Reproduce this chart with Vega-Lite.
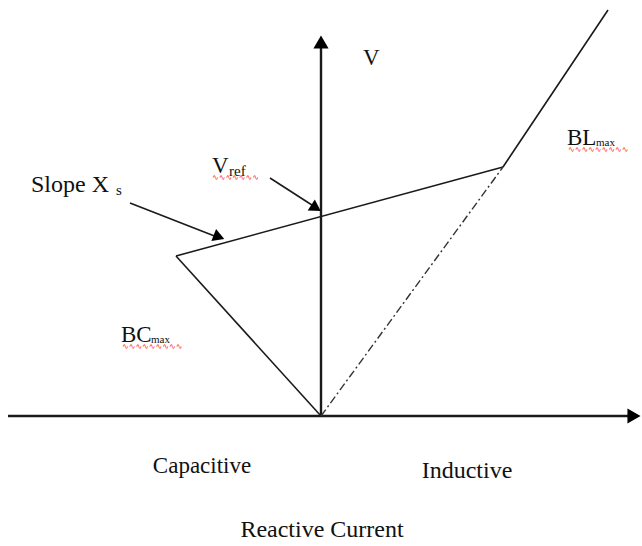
{
  "$schema": "https://vega.github.io/schema/vega-lite/v6.json",
  "width": 642,
  "height": 546,
  "autosize": {"type": "fit", "contains": "padding"},
  "padding": 0,
  "background": "white",
  "config": {"view": {"stroke": null}},
  "datasets": {
    "lines": [
      {"part": "axis", "x": -313, "y": 0, "x2": 312, "y2": 0},
      {"part": "axis", "x": 0, "y": 0, "x2": 0, "y2": 372},
      {"part": "curve", "x": 0, "y": 0, "x2": -145, "y2": 160},
      {"part": "curve", "x": -145, "y": 160, "x2": 182, "y2": 249},
      {"part": "curve", "x": 182, "y": 249, "x2": 287, "y2": 406},
      {"part": "pointer", "x": -191, "y": 213, "x2": -104, "y2": 179},
      {"part": "pointer", "x": -51, "y": 238, "x2": -6, "y2": 209},
      {"part": "dashdot", "x": 0, "y": 0, "x2": 182, "y2": 249}
    ],
    "heads": [
      {"part": "axis", "x": 0, "y": 374, "dir": 0},
      {"part": "axis", "x": 313, "y": 0, "dir": 90},
      {"part": "pointer", "x": -102, "y": 179, "dir": 111},
      {"part": "pointer", "x": -5, "y": 208, "dir": 123}
    ],
    "labels": [
      {"part": "big", "label": "V", "x": 42, "y": 351},
      {"part": "wide", "label": "Slope X", "x": -290, "y": 224},
      {"part": "sub", "label": "s", "x": -205, "y": 221},
      {"part": "big", "label": "V", "x": -109, "y": 243},
      {"part": "sub", "label": "ref", "x": -92, "y": 240},
      {"part": "big", "label": "BL", "x": 246, "y": 271},
      {"part": "tiny", "label": "max", "x": 275, "y": 270},
      {"part": "big", "label": "BC", "x": -200, "y": 74},
      {"part": "tiny", "label": "max", "x": -170, "y": 73}
    ],
    "centered": [
      {"part": "plain", "label": "Capacitive", "x": -119, "y": -57},
      {"part": "wide", "label": "Inductive", "x": 146, "y": -62},
      {"part": "wide", "label": "Reactive Current", "x": 1, "y": -121}
    ],
    "squiggles": [
      {"label": "∿∿∿∿∿∿∿", "x": -109, "y": 238},
      {"label": "∿∿∿∿∿∿∿∿∿", "x": 247, "y": 266},
      {"label": "∿∿∿∿∿∿∿∿∿", "x": -199, "y": 69}
    ]
  },
  "layer": [
    {
      "data": {"name": "lines"},
      "transform": [{"filter": "datum.part === 'axis'"}],
      "mark": {"type": "rule", "color": "#1a1a1a", "strokeWidth": 2.4},
      "encoding": {
        "x": {"field": "x", "type": "quantitative", "scale": {"domain": [-321, 321], "nice": false, "zero": false}, "axis": null},
        "y": {"field": "y", "type": "quantitative", "scale": {"domain": [-130, 416], "nice": false, "zero": false}, "axis": null},
        "x2": {"field": "x2"},
        "y2": {"field": "y2"}
      }
    },
    {
      "data": {"name": "lines"},
      "transform": [{"filter": "datum.part === 'curve' || datum.part === 'pointer'"}],
      "mark": {"type": "rule", "color": "#1a1a1a", "strokeWidth": 1.6},
      "encoding": {
        "x": {"field": "x", "type": "quantitative"},
        "y": {"field": "y", "type": "quantitative"},
        "x2": {"field": "x2"},
        "y2": {"field": "y2"}
      }
    },
    {
      "data": {"name": "lines"},
      "transform": [{"filter": "datum.part === 'dashdot'"}],
      "mark": {"type": "rule", "color": "#333333", "strokeWidth": 1.4, "strokeDash": [8, 3, 2, 3]},
      "encoding": {
        "x": {"field": "x", "type": "quantitative"},
        "y": {"field": "y", "type": "quantitative"},
        "x2": {"field": "x2"},
        "y2": {"field": "y2"}
      }
    },
    {
      "data": {"name": "heads"},
      "transform": [{"filter": "datum.part === 'axis'"}],
      "mark": {"type": "point", "shape": "triangle-up", "filled": true, "color": "#000000", "size": 230, "opacity": 1},
      "encoding": {
        "x": {"field": "x", "type": "quantitative"},
        "y": {"field": "y", "type": "quantitative"},
        "angle": {"field": "dir", "type": "quantitative", "scale": null}
      }
    },
    {
      "data": {"name": "heads"},
      "transform": [{"filter": "datum.part === 'pointer'"}],
      "mark": {"type": "point", "shape": "triangle-up", "filled": true, "color": "#000000", "size": 170, "opacity": 1},
      "encoding": {
        "x": {"field": "x", "type": "quantitative"},
        "y": {"field": "y", "type": "quantitative"},
        "angle": {"field": "dir", "type": "quantitative", "scale": null}
      }
    },
    {
      "data": {"name": "labels"},
      "transform": [{"filter": "datum.part === 'big'"}],
      "mark": {"type": "text", "font": "Liberation Serif", "fontSize": 23, "align": "left", "baseline": "alphabetic", "color": "#111111"},
      "encoding": {
        "x": {"field": "x", "type": "quantitative"},
        "y": {"field": "y", "type": "quantitative"},
        "text": {"field": "label"}
      }
    },
    {
      "data": {"name": "labels"},
      "transform": [{"filter": "datum.part === 'wide'"}],
      "mark": {"type": "text", "font": "Liberation Serif", "fontSize": 24, "letterSpacing": 0.8, "align": "left", "baseline": "alphabetic", "color": "#111111"},
      "encoding": {
        "x": {"field": "x", "type": "quantitative"},
        "y": {"field": "y", "type": "quantitative"},
        "text": {"field": "label"}
      }
    },
    {
      "data": {"name": "labels"},
      "transform": [{"filter": "datum.part === 'sub'"}],
      "mark": {"type": "text", "font": "Liberation Serif", "fontSize": 15, "align": "left", "baseline": "alphabetic", "color": "#111111"},
      "encoding": {
        "x": {"field": "x", "type": "quantitative"},
        "y": {"field": "y", "type": "quantitative"},
        "text": {"field": "label"}
      }
    },
    {
      "data": {"name": "labels"},
      "transform": [{"filter": "datum.part === 'tiny'"}],
      "mark": {"type": "text", "font": "Liberation Serif", "fontSize": 11, "align": "left", "baseline": "alphabetic", "color": "#111111"},
      "encoding": {
        "x": {"field": "x", "type": "quantitative"},
        "y": {"field": "y", "type": "quantitative"},
        "text": {"field": "label"}
      }
    },
    {
      "data": {"name": "centered"},
      "transform": [{"filter": "datum.part === 'plain'"}],
      "mark": {"type": "text", "font": "Liberation Serif", "fontSize": 23, "align": "center", "baseline": "alphabetic", "color": "#111111"},
      "encoding": {
        "x": {"field": "x", "type": "quantitative"},
        "y": {"field": "y", "type": "quantitative"},
        "text": {"field": "label"}
      }
    },
    {
      "data": {"name": "centered"},
      "transform": [{"filter": "datum.part === 'wide'"}],
      "mark": {"type": "text", "font": "Liberation Serif", "fontSize": 24, "letterSpacing": 1.1, "align": "center", "baseline": "alphabetic", "color": "#111111"},
      "encoding": {
        "x": {"field": "x", "type": "quantitative"},
        "y": {"field": "y", "type": "quantitative"},
        "text": {"field": "label"}
      }
    },
    {
      "data": {"name": "squiggles"},
      "mark": {"type": "text", "font": "DejaVu Sans", "fontSize": 8, "align": "left", "baseline": "middle", "color": "#ff2020"},
      "encoding": {
        "x": {"field": "x", "type": "quantitative"},
        "y": {"field": "y", "type": "quantitative"},
        "text": {"field": "label"}
      }
    }
  ]
}
